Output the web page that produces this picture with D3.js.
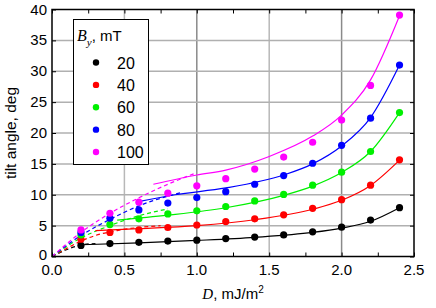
<!DOCTYPE html>
<html>
<head>
<meta charset="utf-8">
<script src="https://cdn.jsdelivr.net/npm/d3@7"></script>
<style>
  body { margin: 0; background: #fff; }
  svg text { font-family: "Liberation Sans", Arial, sans-serif; }
  .it { font-family: "Liberation Serif", "Times New Roman", serif; font-style: italic; }
</style>
</head>
<body>
<div id="chart"></div>
<script>
// tilt angle vs D for several B_y values: measured points + fitted curves

const FIELDS = [20, 40, 60, 80, 100]; // mT
const COLORS = ["#000000", "#ff0000", "#00f000", "#0000ff", "#ff00ff"];
const D_VALUES = [0.2, 0.4, 0.6, 0.8, 1.0, 1.2, 1.4, 1.6, 1.8, 2.0, 2.2, 2.4];

// measured tilt angle (deg), one row per field
const ANGLE_20  = [1.8, 2.1, 2.3, 2.5, 2.65, 2.9, 3.15, 3.5, 4.0, 4.75, 5.9, 7.9];
const ANGLE_40  = [2.8, 3.9, 4.3, 4.7, 5.1, 5.65, 6.1, 6.75, 7.8, 9.2, 11.55, 15.65];
const ANGLE_60  = [3.5, 5.2, 6.1, 6.9, 7.4, 8.1, 9.0, 10.05, 11.55, 13.65, 17.0, 23.3];
const ANGLE_80  = [3.9, 6.2, 7.55, 8.65, 9.55, 10.5, 11.7, 13.1, 15.1, 18.0, 22.4, 31.0];
const ANGLE_100 = [4.3, 7.0, 8.8, 10.25, 11.45, 12.6, 14.15, 16.1, 18.5, 22.1, 27.7, 39.1];
const ANGLES = [ANGLE_20, ANGLE_40, ANGLE_60, ANGLE_80, ANGLE_100];

// fitted curves: [D, angle]
const FIT_20  = [[0.2, 1.9], [0.6, 2.2], [1.0, 2.6], [1.4, 3.1], [1.8, 3.9], [2.0, 4.6], [2.2, 5.7], [2.4, 7.9]];
const FIT_40  = [[0.3, 4.2], [0.6, 4.5], [1.0, 5.0], [1.4, 5.95], [1.8, 7.65], [2.0, 9.1], [2.2, 11.5], [2.4, 15.6]];
const FIT_60  = [[0.45, 5.9], [0.8, 6.7], [1.2, 7.9], [1.6, 9.9], [1.8, 11.4], [2.0, 13.6], [2.2, 17.0], [2.4, 23.3]];
const FIT_80  = [[0.58, 8.8], [0.85, 10.0], [1.2, 11.1], [1.6, 13.2], [1.8, 15.0], [2.0, 17.9], [2.2, 22.5], [2.4, 31.0]];
const FIT_100 = [[0.7, 11.7], [1.0, 13.2], [1.2, 14.0], [1.5, 16.2], [1.8, 19.5], [2.0, 22.9], [2.2, 28.6], [2.4, 39.0]];
const FITS = [FIT_20, FIT_40, FIT_60, FIT_80, FIT_100];

// low-D model curves (dashed)
const LOW_20  = [[0, 0], [0.1, 1.1], [0.2, 1.85], [0.3, 2.1]];
const LOW_40  = [[0, 0], [0.1, 1.3], [0.2, 2.5], [0.3, 3.4], [0.45, 4.2], [0.75, 5.0]];
const LOW_60  = [[0, 0], [0.2, 3.0], [0.4, 5.0], [0.6, 6.6], [0.8, 7.7]];
const LOW_80  = [[0, 0], [0.2, 3.4], [0.4, 6.0], [0.6, 8.2], [0.9, 10.4]];
const LOW_100 = [[0, 0], [0.2, 3.9], [0.4, 7.0], [0.6, 9.5], [0.8, 11.7], [0.98, 13.4]];
const LOWS = [LOW_20, LOW_40, LOW_60, LOW_80, LOW_100];

const X_TICKS = [0, 0.5, 1.0, 1.5, 2.0, 2.5];
const X_MINOR = [0.25, 0.75, 1.25, 1.75, 2.25];
const Y_TICKS = [0, 5, 10, 15, 20, 25, 30, 35, 40];

const W = 436, H = 308;
const x = d3.scaleLinear().domain([0, 2.5]).range([52, 414]);
const y = d3.scaleLinear().domain([0, 40]).range([256.5, 9.5]);

const svg = d3.select("#chart").append("svg")
  .attr("width", W).attr("height", H);

// grid
const grid = svg.append("g");
grid.selectAll("line.gx")
  .data(X_TICKS.slice(1, -1))
  .enter().append("line")
  .attr("x1", d => x(d)).attr("x2", d => x(d))
  .attr("y1", y(0)).attr("y2", y(40))
  .attr("stroke", d => (d % 1 === 0) ? "#8a8a8a" : "#b8b8b8")
  .attr("stroke-width", 1.5);
grid.selectAll("line.gy")
  .data(Y_TICKS.slice(1, -1))
  .enter().append("line")
  .attr("x1", x(0)).attr("x2", x(2.5))
  .attr("y1", d => y(d)).attr("y2", d => y(d))
  .attr("stroke", "#b0b0b0")
  .attr("stroke-width", 1.5);

// curves
const line = d3.line()
  .x(d => x(d[0])).y(d => y(d[1]))
  .curve(d3.curveMonotoneX);

const curves = svg.append("g").attr("fill", "none").attr("stroke-width", 1.2);
LOWS.forEach((pts, i) => {
  curves.append("path")
    .attr("d", line(pts))
    .attr("stroke", COLORS[i])
    .attr("stroke-dasharray", "4,3");
});
FITS.forEach((pts, i) => {
  curves.append("path")
    .attr("d", line(pts))
    .attr("stroke", COLORS[i]);
});

// points
const pts = svg.append("g");
ANGLES.forEach((vals, i) => {
  pts.selectAll(null)
    .data(vals)
    .enter().append("circle")
    .attr("cx", (d, j) => x(D_VALUES[j]))
    .attr("cy", d => y(d))
    .attr("r", 3.6)
    .attr("fill", COLORS[i]);
});

// axes: ticks inside on all four sides
const tl = 4;
const axB = d3.axisBottom(x).tickValues(X_TICKS.concat(X_MINOR)).tickSize(-tl).tickFormat("");
const axT = d3.axisTop(x).tickValues(X_TICKS.concat(X_MINOR)).tickSize(-tl).tickFormat("");
const axL = d3.axisLeft(y).tickValues(Y_TICKS).tickSize(-tl).tickFormat("");
const axR = d3.axisRight(y).tickValues(Y_TICKS).tickSize(-tl).tickFormat("");
[[axB, `translate(0,${y(0)})`], [axT, `translate(0,${y(40)})`],
 [axL, `translate(${x(0)},0)`], [axR, `translate(${x(2.5)},0)`]].forEach(([ax, tr]) => {
  const g = svg.append("g").attr("transform", tr).call(ax);
  g.select(".domain").remove();
  g.selectAll("line").attr("stroke", "#000").attr("stroke-width", 1);
});

svg.append("rect")
  .attr("x", x(0)).attr("y", y(40))
  .attr("width", x(2.5) - x(0)).attr("height", y(0) - y(40))
  .attr("fill", "none").attr("stroke", "#000").attr("stroke-width", 1.5);

// tick labels
svg.append("g").selectAll("text")
  .data(X_TICKS)
  .enter().append("text")
  .attr("x", d => x(d)).attr("y", 275)
  .attr("text-anchor", "middle")
  .attr("font-size", 15)
  .text(d => d3.format(".1f")(d));
svg.append("g").selectAll("text")
  .data(Y_TICKS)
  .enter().append("text")
  .attr("x", 47).attr("y", d => y(d) + (d === 0 ? 3 : 5))
  .attr("text-anchor", "end")
  .attr("font-size", 15)
  .text(d => d);

// axis titles
const xt = svg.append("text")
  .attr("x", 233).attr("y", 299)
  .attr("text-anchor", "middle")
  .attr("font-size", 15);
xt.append("tspan").attr("class", "it").text("D");
xt.append("tspan").text(", mJ/m");
xt.append("tspan").attr("font-size", 10).attr("dy", -6).text("2");

svg.append("text")
  .attr("transform", "translate(16,133) rotate(-90)")
  .attr("text-anchor", "middle")
  .attr("font-size", 15.5)
  .text("tilt angle, deg");

// legend
const lg = svg.append("g");
lg.append("rect")
  .attr("x", 73.5).attr("y", 19.5)
  .attr("width", 75).attr("height", 145)
  .attr("fill", "#fff").attr("stroke", "#000").attr("stroke-width", 1);
const lt = lg.append("text").attr("x", 77).attr("y", 41).attr("font-size", 15);
lt.append("tspan").attr("class", "it").attr("font-size", 16).text("B");
lt.append("tspan").attr("class", "it").attr("font-size", 11).attr("dy", 5).text("y");
lt.append("tspan").attr("dy", -5).text(", mT");

const rowY = d3.scaleLinear().domain([0, 4]).range([62.5, 152]);
FIELDS.forEach((f, i) => {
  lg.append("circle")
    .attr("cx", 96).attr("cy", rowY(i)).attr("r", 3.2)
    .attr("fill", COLORS[i]);
  lg.append("text")
    .attr("x", 117).attr("y", rowY(i) + 6)
    .attr("font-size", 16)
    .text(f);
});
</script>
</body>
</html>
